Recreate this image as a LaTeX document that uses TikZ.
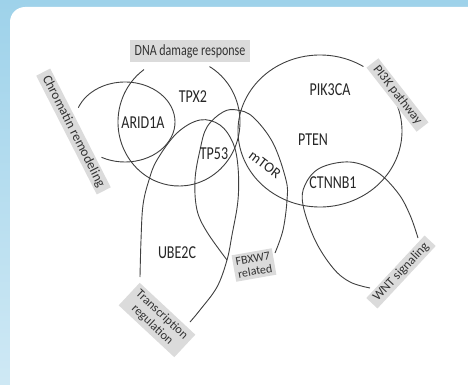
\documentclass[tikz,border=0pt]{standalone}
\usepackage{fontspec}
\setmainfont{Carlito}
\usepackage{xcolor}
\usepackage{tikz}
\definecolor{fundoazul}{RGB}{158,210,234}
\tikzset{
  gene/.style={font=\fontsize{14}{16}\selectfont, text=black!85, inner sep=1pt, yscale=1.3},
  tema/.style={font=\fontsize{12}{13}\selectfont, fill=gray!28, text=black!80, align=center, inner xsep=5pt, inner ysep=3pt},
  conjunto/.style={draw=black!75, line width=0.9pt},
}

\begin{document}
\begin{tikzpicture}[x=1pt, y=1pt]
  \useasboundingbox (0,0) rectangle (468,384);
  % fundo
  \shade[top color=fundoazul, bottom color=fundoazul!50!white] (0,0) rectangle (468,384);
  \fill[white, rounded corners=15pt] (10,-30) rectangle (500,377);

  % conjuntos
  \draw[conjunto] (125,262) ++(-118:50 and 40) arc[start angle=-118, end angle=159, x radius=50, y radius=40];
  \draw[conjunto] (179,262) ++(125:61 and 64) arc[start angle=125, end angle=420, x radius=61, y radius=64];
  \draw[conjunto] (320,253) ++(58:82 and 76) arc[start angle=58, end angle=383, x radius=82, y radius=76];
  \draw[conjunto] plot[smooth, tension=0.6] coordinates {(227,124) (207,152) (197,174) (195,204) (200,234) (207,257) (223,272) (237,274) (253,267) (273,241) (286,204) (287,184) (283,154) (275,131)};
  \draw[conjunto] plot[smooth, tension=0.6] coordinates {(140,107) (141,144) (143,179) (149,204) (157,224) (177,251) (200,264) (220,259) (233,241) (238,217) (238,184) (232,149) (227,124) (217,97) (200,74) (190,62)};
  \draw[conjunto] plot[smooth, tension=0.6] coordinates {(370,96) (350,102) (333,116) (315,144) (303,179) (305,199) (320,216) (350,222) (377,212) (398,191) (410,169) (418,146)};

  % temas
  \node[tema, rotate=-63, font=\fontsize{13.5}{14}\selectfont, inner ysep=2pt] (chrom) at (73.5,252.5) {Chromatin remodeling};
  \node[tema, yscale=1.3] (dna) at (190,333) {DNA damage response};
  \node[tema, rotate=-52, font=\fontsize{13}{14}\selectfont, inner ysep=2pt] (pi3k) at (397.5,289) {PI3K pathway};
  \node[tema, rotate=10, inner xsep=3pt] (fbxw7) at (254,119) {FBXW7\\related};
  \node[tema, rotate=-43, font=\fontsize{12.5}{14}\selectfont] (transc) at (157,64) {Transcription\\regulation};
  \node[tema, rotate=47, font=\fontsize{13}{14}\selectfont, inner ysep=2pt] (wnt) at (401,112) {WNT signaling};

  % genes
  \node[gene] (tpx2) at (193,287) {TPX2};
  \node[gene] (arid1a) at (143,261) {ARID1A};
  \node[gene] (tp53) at (214,230) {TP53};
  \node[gene, yscale=1/1.3, rotate=-37, font=\fontsize{14.5}{16}\selectfont] (mtor) at (265,219) {mTOR};
  \node[gene] (pik3ca) at (330,294) {PIK3CA};
  \node[gene] (pten) at (313,244) {PTEN};
  \node[gene] (ctnnb1) at (333,201) {CTNNB1};
  \node[gene] (ube2c) at (177,131) {UBE2C};
\end{tikzpicture}
\end{document}
